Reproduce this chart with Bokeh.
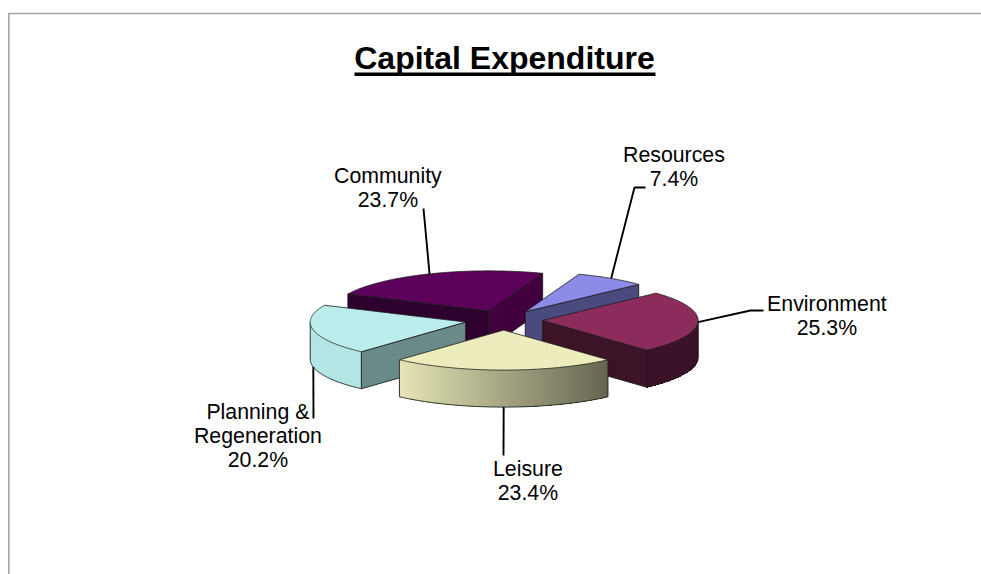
import numpy as np
from bokeh.plotting import figure
from bokeh.models import Range1d
from bokeh.core.properties import value
from bokeh.embed import file_html
from bokeh.resources import INLINE

# ---- data ----
categories = ["Resources", "Environment", "Leisure", "Planning &\nRegeneration", "Community"]
shares = [7.4, 25.3, 23.4, 20.2, 23.7]
title = "Capital Expenditure"

# ---- style ----
top_colors = ["#8c8ce8", "#8b2c5c", "#ececbc", "#bbeded", "#5c005c"]
start_wall = ["#3a3a66", "#3a1225", "#66664f", "#6a8a8a", "#2d002d"]
end_wall = ["#4a4a7e", "#3d1327", "#66664f", "#6a8a8a", "#42003f"]
FONT = "Liberation Sans"
EDGE = "#1c1c1c"

# ---- layout (pixels of the page) ----
W, H = 981, 574
CX, CY, RX, RY, DEPTH, EXPLODE = 503.3, 319.6, 155.5, 40.0, 37.0, 0.25
START = 20.2
label_x = [673.4, 826.4, 527.4, 257.4, 387.4]
label_base = [154, 303.5, 468.5, 411, 175]
LINE = 24
# where each leader leaves its label (elbow points, from the label side)
leader_tail = [[(645, 187), (634, 187)], [(763, 310), (750, 310)], [(503, 455)], [(313, 418)], [(423, 208)]]

p = figure(width=W, height=H, output_backend="svg", toolbar_location=None,
           x_range=Range1d(0, W), y_range=Range1d(H, 0),
           min_border=0, outline_line_color=None, background_fill_color="white",
           border_fill_color="white")
p.axis.visible = False
p.grid.visible = False

# frame of the sheet
p.line([8.3, 8.3, W], [H, 13, 13], line_color="#a4a4a4", line_width=1.6)


def shade(hex_color, f):
    r, g, b = (int(hex_color[i:i + 2], 16) for i in (1, 3, 5))
    return "#%02x%02x%02x" % (round(r * f), round(g * f), round(b * f))


edges = START + np.concatenate([[0], np.cumsum(shares)]) * 3.6
order = [4, 0, 1, 3, 2]  # back to front
anchors = {}

for i in order:
    a0, a1 = edges[i], edges[i + 1]
    mid = np.radians((a0 + a1) / 2)
    ax = CX + EXPLODE * RX * np.sin(mid)
    ay = CY - EXPLODE * RY * np.cos(mid)
    th = np.radians(np.linspace(a0, a1, int(a1 - a0) * 2 + 2))
    ex = ax + RX * np.sin(th)
    ey = ay - RY * np.cos(th)

    # straight cut faces that turn towards the viewer
    for ang, px, py, sign, col in ((a0, ex[0], ey[0], -90, start_wall[i]), (a1, ex[-1], ey[-1], 90, end_wall[i])):
        if np.cos(np.radians(ang + sign)) < 0:
            p.patch([ax, px, px, ax], [ay, py, py + DEPTH, ay + DEPTH],
                    fill_color=col, line_color=EDGE, line_width=0.9)

    # curved outer wall, lit from the left; strips overlap so no seams show
    vis = np.cos(th) <= 0
    if vis.sum() > 1:
        vx, vy, vt = ex[vis], ey[vis], th[vis]
        xs, ys, cols = [], [], []
        last = len(vx) - 1
        for k in range(last):
            xs.append(list(vx[k:last + 1]) + list(vx[k:last + 1][::-1]))
            ys.append(list(vy[k:last + 1]) + list((vy[k:last + 1] + DEPTH)[::-1]))
            s = (np.sin(vt[k]) + np.sin(vt[k + 1])) / 2
            t = float(np.clip((s + 0.669) / 1.338, 0, 1))
            cols.append(shade(top_colors[i], 0.97 - 0.54 * t))
        p.patches(xs, ys, fill_color=cols, line_color=None)
        p.line(list(vx), list(vy + DEPTH), line_color=EDGE, line_width=0.9)
        p.line([vx[0], vx[0]], [vy[0], vy[0] + DEPTH], line_color=EDGE, line_width=0.9)
        p.line([vx[-1], vx[-1]], [vy[-1], vy[-1] + DEPTH], line_color=EDGE, line_width=0.9)

    # top face
    p.patch([ax] + list(ex), [ay] + list(ey), fill_color=top_colors[i], line_color=EDGE, line_width=0.8)

    # anchor of the leader
    front = np.cos(mid) < -0.15
    anchors[i] = (ax + RX * np.sin(mid), ay - RY * np.cos(mid) + (DEPTH if front else 0))

# labels and leaders
for i, name in enumerate(categories):
    xs = [pt[0] for pt in leader_tail[i]] + [anchors[i][0]]
    ys = [pt[1] for pt in leader_tail[i]] + [anchors[i][1]]
    p.line(xs, ys, line_color="black", line_width=1.9)
    lines = name.split("\n") + ["%.1f%%" % shares[i]]
    p.text([label_x[i]] * len(lines), [label_base[i] + LINE * k for k in range(len(lines))], text=lines,
           text_font=value(FONT), text_font_size="21.3px", text_color="black",
           text_align="center", text_baseline="alphabetic")

# title with its underline
p.text([504], [57], text=[title], text_font=value(FONT), text_font_size="32px",
       text_font_style="bold", text_color="black", text_align="center", text_baseline="alphabetic")
p.line([354, 655], [73.7, 73.7], line_color="black", line_width=3.4)

open("out.html", "w").write(file_html(p, INLINE))
